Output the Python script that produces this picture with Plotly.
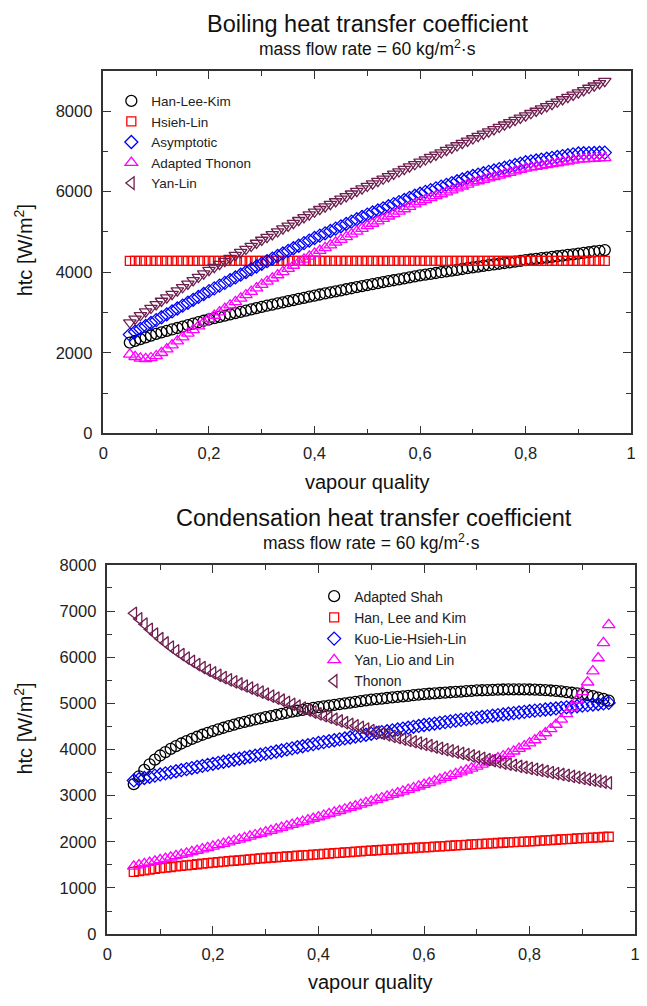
import plotly.graph_objects as go

# ---------------- data ----------------
QUALITY = [0.05, 0.06, 0.07, 0.08, 0.09, 0.10, 0.11, 0.12, 0.13, 0.14,
           0.15, 0.16, 0.17, 0.18, 0.19, 0.20, 0.21, 0.22, 0.23, 0.24,
           0.25, 0.26, 0.27, 0.28, 0.29, 0.30, 0.31, 0.32, 0.33, 0.34,
           0.35, 0.36, 0.37, 0.38, 0.39, 0.40, 0.41, 0.42, 0.43, 0.44,
           0.45, 0.46, 0.47, 0.48, 0.49, 0.50, 0.51, 0.52, 0.53, 0.54,
           0.55, 0.56, 0.57, 0.58, 0.59, 0.60, 0.61, 0.62, 0.63, 0.64,
           0.65, 0.66, 0.67, 0.68, 0.69, 0.70, 0.71, 0.72, 0.73, 0.74,
           0.75, 0.76, 0.77, 0.78, 0.79, 0.80, 0.81, 0.82, 0.83, 0.84,
           0.85, 0.86, 0.87, 0.88, 0.89, 0.90, 0.91, 0.92, 0.93, 0.94,
           0.95]

# Boiling
boil_han_lee_kim = [2250, 2294, 2338, 2382, 2426, 2470, 2506, 2542, 2578, 2614,
                    2650, 2686, 2722, 2758, 2794, 2830, 2861, 2892, 2923, 2954,
                    2985, 3016, 3047, 3078, 3109, 3140, 3168, 3196, 3224, 3252,
                    3280, 3308, 3336, 3364, 3392, 3420, 3446, 3472, 3498, 3524,
                    3550, 3576, 3602, 3628, 3654, 3680, 3704, 3728, 3752, 3776,
                    3800, 3824, 3848, 3872, 3896, 3920, 3940, 3960, 3980, 4000,
                    4020, 4040, 4060, 4080, 4100, 4120, 4138, 4156, 4174, 4192,
                    4210, 4228, 4246, 4264, 4282, 4300, 4316, 4332, 4348, 4364,
                    4380, 4396, 4412, 4428, 4444, 4460, 4478, 4496, 4514, 4532,
                    4550]
boil_hsieh_lin = [4280, 4280, 4280, 4280, 4280, 4280, 4280, 4280, 4280, 4280,
                  4280, 4280, 4280, 4280, 4280, 4280, 4280, 4280, 4280, 4280,
                  4280, 4280, 4280, 4280, 4280, 4280, 4280, 4280, 4280, 4280,
                  4280, 4280, 4280, 4280, 4280, 4280, 4280, 4280, 4280, 4280,
                  4280, 4280, 4280, 4280, 4280, 4280, 4280, 4280, 4280, 4280,
                  4280, 4280, 4280, 4280, 4280, 4280, 4280, 4280, 4280, 4280,
                  4280, 4280, 4280, 4280, 4280, 4280, 4280, 4280, 4280, 4280,
                  4280, 4280, 4280, 4280, 4280, 4280, 4280, 4280, 4280, 4280,
                  4280, 4280, 4280, 4280, 4280, 4280, 4280, 4280, 4280, 4280,
                  4280]
boil_asymptotic = [2450, 2522, 2594, 2666, 2738, 2810, 2882, 2954, 3026, 3098,
                   3170, 3242, 3314, 3386, 3458, 3530, 3598, 3666, 3734, 3802,
                   3870, 3938, 4006, 4074, 4142, 4210, 4274, 4338, 4402, 4466,
                   4530, 4594, 4658, 4722, 4786, 4850, 4908, 4966, 5024, 5082,
                   5140, 5198, 5256, 5314, 5372, 5430, 5482, 5534, 5586, 5638,
                   5690, 5742, 5794, 5846, 5898, 5950, 5994, 6038, 6082, 6126,
                   6170, 6214, 6258, 6302, 6346, 6390, 6424, 6458, 6492, 6526,
                   6560, 6594, 6628, 6662, 6696, 6730, 6752, 6774, 6796, 6818,
                   6840, 6862, 6884, 6906, 6928, 6950, 6954, 6958, 6962, 6966,
                   6970]
boil_adapted_thonon = [1960, 1900, 1860, 1850, 1870, 1920, 2000, 2090, 2190, 2290,
                       2390, 2480, 2570, 2660, 2750, 2840, 2925, 3010, 3095, 3180,
                       3265, 3350, 3435, 3520, 3605, 3690, 3770, 3850, 3930, 4010,
                       4090, 4166, 4242, 4318, 4394, 4470, 4538, 4606, 4674, 4742,
                       4810, 4878, 4946, 5014, 5082, 5150, 5210, 5270, 5330, 5390,
                       5450, 5510, 5570, 5630, 5690, 5750, 5798, 5846, 5894, 5942,
                       5990, 6038, 6086, 6134, 6182, 6230, 6265, 6300, 6335, 6370,
                       6405, 6440, 6475, 6510, 6545, 6580, 6602, 6624, 6646, 6668,
                       6690, 6712, 6734, 6756, 6778, 6800, 6808, 6816, 6824, 6832,
                       6840]
boil_yan_lin = [2750, 2840, 2930, 3020, 3110, 3200, 3285, 3370, 3455, 3540,
                3625, 3710, 3795, 3880, 3965, 4050, 4125, 4200, 4275, 4350,
                4425, 4500, 4575, 4650, 4725, 4800, 4870, 4940, 5010, 5080,
                5150, 5220, 5290, 5360, 5430, 5500, 5564, 5628, 5692, 5756,
                5820, 5884, 5948, 6012, 6076, 6140, 6200, 6260, 6320, 6380,
                6440, 6500, 6560, 6620, 6680, 6740, 6798, 6856, 6914, 6972,
                7030, 7088, 7146, 7204, 7262, 7320, 7377, 7434, 7491, 7548,
                7605, 7662, 7719, 7776, 7833, 7890, 7947, 8004, 8061, 8118,
                8175, 8232, 8289, 8346, 8403, 8460, 8517, 8574, 8631, 8688,
                8745]

# Condensation
cond_adapted_shah = [3250, 3420, 3560, 3680, 3780, 3870, 3945, 4013, 4075, 4130,
                     4180, 4230, 4276, 4320, 4362, 4400, 4436, 4471, 4505, 4538,
                     4570, 4598, 4625, 4651, 4676, 4700, 4724, 4748, 4772, 4796,
                     4820, 4840, 4860, 4880, 4900, 4920, 4936, 4952, 4968, 4984,
                     5000, 5016, 5032, 5048, 5064, 5080, 5092, 5104, 5116, 5128,
                     5140, 5152, 5164, 5176, 5188, 5200, 5208, 5216, 5224, 5232,
                     5240, 5248, 5256, 5264, 5272, 5280, 5284, 5288, 5292, 5296,
                     5300, 5302, 5303, 5303, 5302, 5300, 5296, 5292, 5286, 5278,
                     5270, 5258, 5244, 5230, 5216, 5200, 5180, 5155, 5125, 5095,
                     5060]
cond_han_lee_kim = [1350, 1366, 1382, 1398, 1414, 1430, 1442, 1454, 1466, 1478,
                    1490, 1502, 1514, 1526, 1538, 1550, 1560, 1570, 1580, 1590,
                    1600, 1610, 1620, 1630, 1640, 1650, 1658, 1666, 1674, 1682,
                    1690, 1698, 1706, 1714, 1722, 1730, 1738, 1746, 1754, 1762,
                    1770, 1778, 1786, 1794, 1802, 1810, 1817, 1824, 1831, 1838,
                    1845, 1852, 1859, 1866, 1873, 1880, 1887, 1894, 1901, 1908,
                    1915, 1922, 1929, 1936, 1943, 1950, 1956, 1962, 1968, 1974,
                    1980, 1986, 1992, 1998, 2004, 2010, 2017, 2024, 2031, 2038,
                    2045, 2052, 2059, 2066, 2073, 2080, 2086, 2092, 2098, 2104,
                    2110]
cond_kuo_lie_hsieh_lin = [3330, 3356, 3382, 3408, 3434, 3460, 3483, 3506, 3529, 3552,
                          3575, 3598, 3621, 3644, 3667, 3690, 3712, 3734, 3756, 3778,
                          3800, 3822, 3844, 3866, 3888, 3910, 3933, 3956, 3979, 4002,
                          4025, 4048, 4071, 4094, 4117, 4140, 4160, 4180, 4200, 4220,
                          4240, 4260, 4280, 4300, 4320, 4340, 4359, 4378, 4397, 4416,
                          4435, 4454, 4473, 4492, 4511, 4530, 4546, 4562, 4578, 4594,
                          4610, 4626, 4642, 4658, 4674, 4690, 4704, 4718, 4732, 4746,
                          4760, 4774, 4788, 4802, 4816, 4830, 4842, 4854, 4866, 4878,
                          4890, 4902, 4914, 4926, 4938, 4950, 4962, 4974, 4986, 4998,
                          5010]
cond_yan_lio_lin = [1467, 1495, 1523, 1551, 1579, 1608, 1637, 1666, 1695, 1724,
                    1753, 1782, 1812, 1842, 1872, 1902, 1932, 1963, 1993, 2024,
                    2055, 2086, 2117, 2149, 2180, 2212, 2244, 2276, 2308, 2340,
                    2373, 2406, 2439, 2472, 2505, 2538, 2571, 2605, 2639, 2673,
                    2707, 2741, 2776, 2810, 2845, 2880, 2915, 2950, 2986, 3021,
                    3058, 3095, 3131, 3167, 3204, 3242, 3279, 3317, 3355, 3394,
                    3432, 3471, 3511, 3551, 3593, 3634, 3677, 3721, 3765, 3812,
                    3860, 3910, 3962, 4018, 4076, 4139, 4206, 4279, 4358, 4445,
                    4542, 4651, 4773, 4911, 5068, 5248, 5457, 5699, 5982, 6312,
                    6700]
cond_thonon = [6950, 6830, 6715, 6605, 6500, 6400, 6308, 6220, 6136, 6056,
               5980, 5908, 5840, 5776, 5716, 5660, 5608, 5558, 5510, 5464,
               5420, 5376, 5332, 5288, 5244, 5200, 5156, 5112, 5068, 5024,
               4980, 4938, 4896, 4854, 4812, 4770, 4732, 4694, 4656, 4618,
               4580, 4546, 4512, 4478, 4444, 4410, 4379, 4348, 4317, 4286,
               4255, 4226, 4197, 4168, 4139, 4110, 4082, 4054, 4026, 3998,
               3970, 3943, 3916, 3889, 3862, 3835, 3809, 3783, 3757, 3731,
               3705, 3682, 3659, 3636, 3613, 3590, 3568, 3546, 3524, 3502,
               3480, 3459, 3438, 3417, 3396, 3375, 3355, 3335, 3315, 3295,
               3275]

BOIL_NAMES = ["Han-Lee-Kim", "Hsieh-Lin", "Asymptotic", "Adapted Thonon", "Yan-Lin"]
COND_NAMES = ["Adapted Shah", "Han, Lee and Kim", "Kuo-Lie-Hsieh-Lin", "Yan, Lio and Lin", "Thonon"]
X_TICKS = [0, 0.2, 0.4, 0.6, 0.8, 1]
X_TICKTEXT = ["0", "0,2", "0,4", "0,6", "0,8", "1"]
BOIL_Y_TICKS = [0, 2000, 4000, 6000, 8000]
COND_Y_TICKS = [0, 1000, 2000, 3000, 4000, 5000, 6000, 7000, 8000]

# ---------------- styles ----------------
W, H = 647, 1006
FONT = "Liberation Sans, Arial, Helvetica, sans-serif"
BLACK = "#000000"
RED = "#ff0000"
BLUE = "#0000ff"
MAGENTA = "#ff00ff"
PURPLE = "#6e1f4f"
LW = 1.3

def px_x(p):
    return p / W

def px_y(p):
    return 1 - p / H

fig = go.Figure()

boil_styles = [
    (boil_han_lee_kim, "circle-open", BLACK, 11),
    (boil_hsieh_lin, "square-open", RED, 9),
    (boil_asymptotic, "diamond-open", BLUE, 10),
    (boil_adapted_thonon, "triangle-up-open", MAGENTA, 11),
    (boil_yan_lin, "triangle-down-open", PURPLE, 11),
]
for name, (vals, sym, col, sz) in zip(BOIL_NAMES, boil_styles):
    show = name != "Yan-Lin"
    fig.add_trace(go.Scatter(
        x=QUALITY, y=vals, mode="markers", name=name, showlegend=show,
        marker=dict(symbol=sym, color=col, size=sz, line=dict(color=col, width=LW)),
        xaxis="x", yaxis="y", legend="legend"))
# legend entry for Yan-Lin drawn with left-pointing triangle as in the original key
fig.add_trace(go.Scatter(
    x=[None], y=[None], mode="markers", name="Yan-Lin",
    marker=dict(symbol="triangle-left-open", color=PURPLE, size=11, line=dict(color=PURPLE, width=LW)),
    xaxis="x", yaxis="y", legend="legend"))

cond_styles = [
    (cond_adapted_shah, "circle-open", BLACK, 11),
    (cond_han_lee_kim, "square-open", RED, 9),
    (cond_kuo_lie_hsieh_lin, "diamond-open", BLUE, 10),
    (cond_yan_lio_lin, "triangle-up-open", MAGENTA, 11),
    (cond_thonon, "triangle-left-open", PURPLE, 11),
]
for name, (vals, sym, col, sz) in zip(COND_NAMES, cond_styles):
    fig.add_trace(go.Scatter(
        x=QUALITY, y=vals, mode="markers", name=name,
        marker=dict(symbol=sym, color=col, size=sz, line=dict(color=col, width=LW)),
        xaxis="x2", yaxis="y2", legend="legend2"))

AXCOL = "#333333"
TICKFONT = dict(family=FONT, size=16.5, color="#222222")

def xaxis(domain, anchor):
    return dict(domain=domain, anchor=anchor, range=[0, 1],
                tickmode="array", tickvals=X_TICKS, ticktext=X_TICKTEXT,
                ticks="inside", ticklen=8, tickwidth=1.3, tickcolor=AXCOL,
                ticklabelstandoff=4,
                showline=True, linecolor=AXCOL, linewidth=1.5, mirror="allticks",
                showgrid=False, zeroline=False, tickfont=TICKFONT,
                minor=dict(tickmode="array", tickvals=[0.1, 0.3, 0.5, 0.7, 0.9],
                           ticks="inside", ticklen=5, tickwidth=1.2, tickcolor=AXCOL, showgrid=False))

def yaxis(domain, anchor, rng, tickvals, minorvals):
    return dict(domain=domain, anchor=anchor, range=rng,
                tickmode="array", tickvals=tickvals,
                ticks="inside", ticklen=8, tickwidth=1.3, tickcolor=AXCOL,
                ticklabelstandoff=6,
                showline=True, linecolor=AXCOL, linewidth=1.5, mirror="allticks",
                showgrid=False, zeroline=False, tickfont=TICKFONT,
                minor=dict(tickmode="array", tickvals=minorvals,
                           ticks="inside", ticklen=5, tickwidth=1.2, tickcolor=AXCOL, showgrid=False))

top_x = [px_x(100), px_x(636)]
top_y = [px_y(432), px_y(63)]
bot_x = [px_x(104), px_x(640)]
bot_y = [px_y(942), px_y(566)]

def ann(text, x, y, size, angle=0):
    return dict(text=text, x=x, y=y, xref="paper", yref="paper", showarrow=False,
                xanchor="center", yanchor="middle", textangle=angle,
                font=dict(family=FONT, size=size, color="#111111"))

annotations = [
    ann("Boiling heat transfer coefficient", px_x(368), px_y(15), 23.5),
    ann("mass flow rate = 60 kg/m<sup>2</sup>·s", px_x(368), px_y(40), 17.5),
    ann("vapour quality", px_x(368), px_y(482), 20),
    ann("htc [W/m<sup>2</sup>]", px_x(19), px_y(246), 20, -90),
    ann("Condensation heat transfer coefficient", px_x(375), px_y(518), 23.5),
    ann("mass flow rate = 60 kg/m<sup>2</sup>·s", px_x(372), px_y(543), 17.5),
    ann("vapour quality", px_x(371), px_y(991), 20),
    ann("htc [W/m<sup>2</sup>]", px_x(19), px_y(733), 20, -90),
]

fig.update_layout(
    width=W, height=H,
    margin=dict(l=0, r=0, t=0, b=0),
    paper_bgcolor="white", plot_bgcolor="white",
    font=dict(family=FONT, color="#222222"),
    xaxis=xaxis(top_x, "y"),
    yaxis=yaxis(top_y, "x", [0, 9000], BOIL_Y_TICKS, [1000, 3000, 5000, 7000, 9000]),
    xaxis2=xaxis(bot_x, "y2"),
    yaxis2=yaxis(bot_y, "x2", [0, 8000], COND_Y_TICKS,
                 [500, 1500, 2500, 3500, 4500, 5500, 6500, 7500]),
    legend=dict(x=px_x(108), y=px_y(78), xanchor="left", yanchor="top",
                bgcolor="rgba(0,0,0,0)", font=dict(family=FONT, size=13.5, color="#222222"),
                tracegroupgap=0, itemwidth=30),
    legend2=dict(x=px_x(314), y=px_y(582), xanchor="left", yanchor="top",
                 bgcolor="rgba(0,0,0,0)", font=dict(family=FONT, size=14, color="#222222"),
                 tracegroupgap=0, itemwidth=30),
    annotations=annotations,
    showlegend=True,
)

fig.write_html("out.html")
